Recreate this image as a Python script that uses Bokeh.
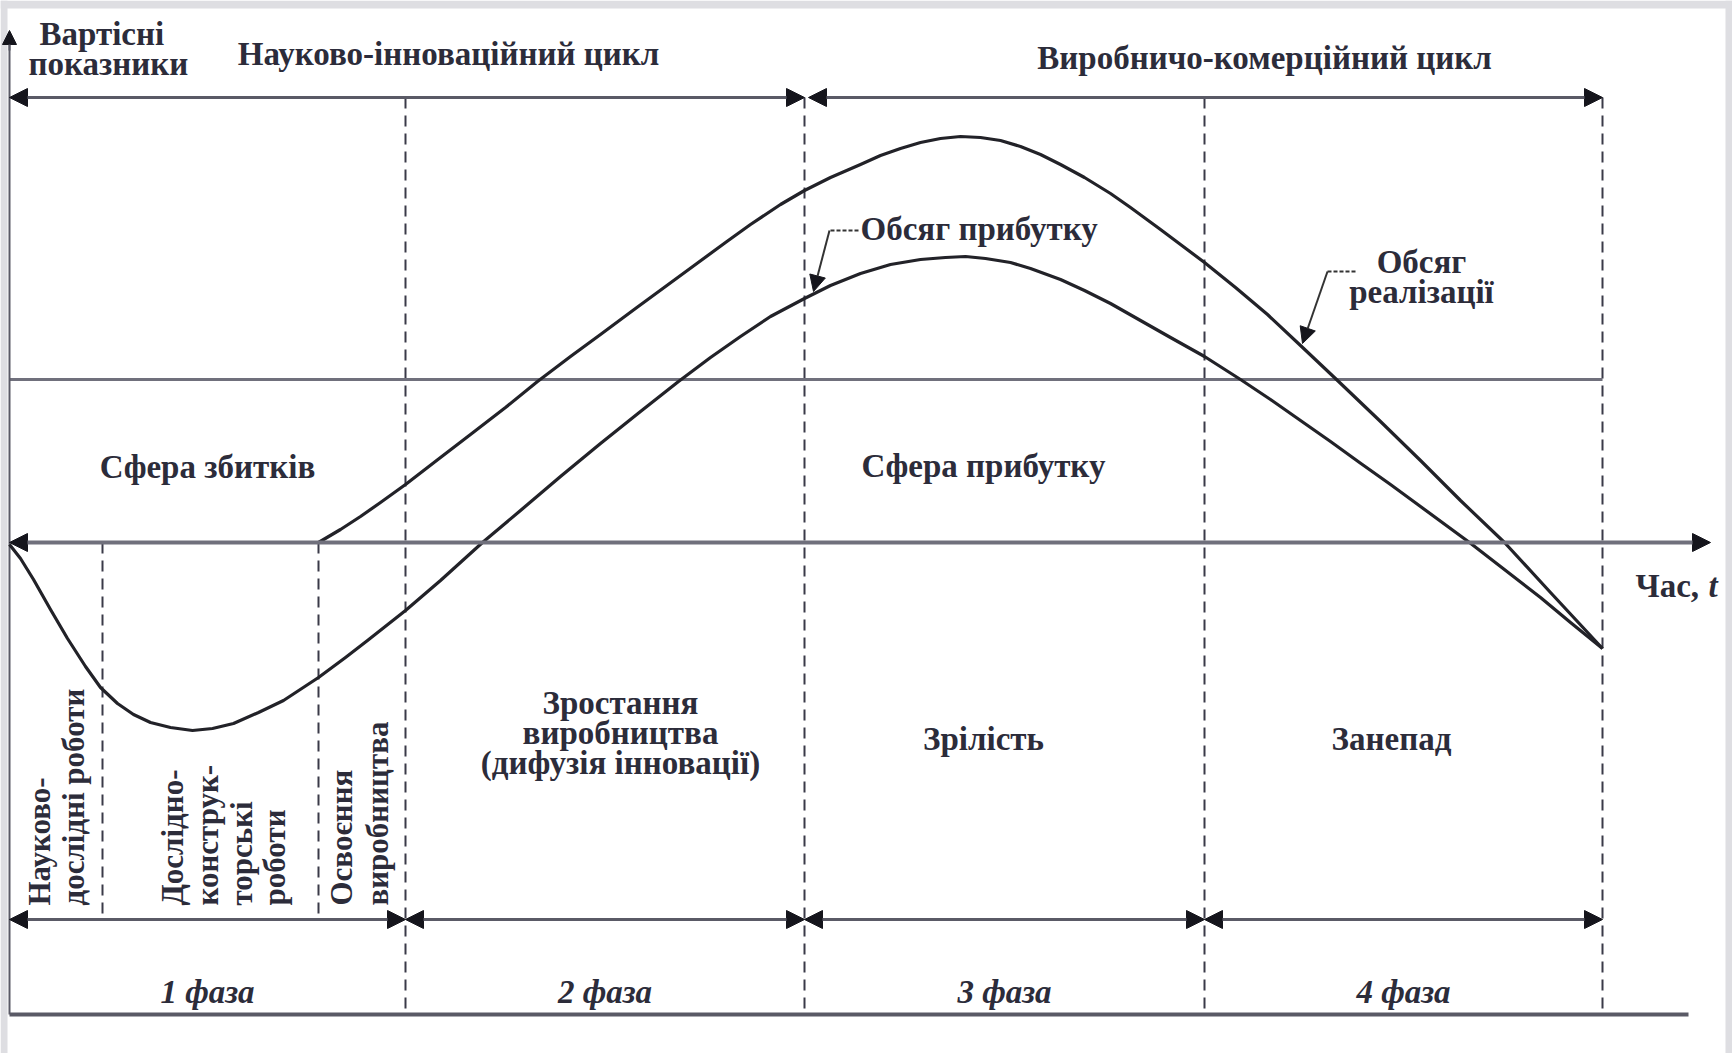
import math
from bokeh.plotting import figure
from bokeh.models import Arrow, NormalHead, Range1d
from bokeh.core.properties import value
from bokeh.embed import file_html
from bokeh.resources import INLINE

# ---------------- data (time position t, value above the time axis) ----------------
W, H = 1732, 1053
AXIS_PX = 542  # pixel row of time axis in the picture

# Обсяг реалізації (sales volume)
sales_t = [318, 340, 360, 380, 405, 440, 470, 505, 537, 570, 600, 635, 665, 695, 725,
           750, 780, 804, 830, 860, 880, 900, 920, 940, 960, 980, 1000, 1020, 1040,
           1060, 1084, 1110, 1130, 1160, 1180, 1204, 1235, 1267, 1300, 1336, 1380,
           1420, 1460, 1504, 1550, 1602]
sales_v = [0, 13, 26, 40, 58, 85, 108, 135, 161, 186, 208, 234, 256, 278, 300,
           318, 338, 352, 365, 378, 387, 394, 400, 404, 406, 405, 402, 396, 388,
           378, 365, 349, 335, 313, 298, 280, 255, 228, 197, 163, 121,
           82, 42, 0, -50, -106]

# Обсяг прибутку (profit volume)
profit_t = [9, 20, 33, 50, 67, 85, 100, 117, 133, 150, 170, 192, 212, 233, 258, 283,
            318, 345, 367, 405, 440, 482, 520, 560, 600, 640, 678, 710, 740, 770, 804,
            830, 860, 890, 920, 945, 965, 985, 1010, 1030, 1060, 1084, 1110, 1140,
            1170, 1204, 1240, 1270, 1300, 1330, 1359, 1390, 1420, 1469, 1500, 1540,
            1570, 1602]
profit_v = [-2, -16, -37, -67, -96, -124, -145, -161, -172, -180, -185, -188, -186, -181,
            -170, -158, -135, -115, -98, -68, -38, 0, 32, 66, 99, 131, 161, 185, 206,
            226, 244, 257, 269, 278, 283, 285, 286, 284, 280, 274, 263, 252, 239, 222,
            205, 186, 163, 143, 122, 101, 80, 58, 36, 0, -24, -55, -80, -106]

phase_bounds = [9, 405, 804, 1204, 1602]        # phase borders on the time axis
stage_bounds = [102, 318]                        # sub-stages inside phase 1
phase_labels = ["1 фаза", "2 фаза", "3 фаза", "4 фаза"]

level_profit_line = 163   # horizontal line separating loss / profit spheres
level_top_arrow = 445
level_phase_arrow = -377
level_base = -472
level_top_axis = 512

# ---------------- figure ----------------
p = figure(width=W, height=H, x_range=Range1d(0, W), y_range=Range1d(AXIS_PX - H, AXIS_PX),
           output_backend="svg", toolbar_location=None, min_border=0,
           x_axis_location=None, y_axis_location=None, background_fill_color="white",
           border_fill_color="white", outline_line_color=None)
p.grid.visible = False

FONT = value("Liberation Serif")
TXT = "#2c2c3a"
LINE = "#3a3a48"

# scan border strips
p.quad(left=[0, 0, W - 7], right=[7, W, W], bottom=[AXIS_PX - H, AXIS_PX - 8, AXIS_PX - H],
       top=[AXIS_PX, AXIS_PX, AXIS_PX], fill_color="#dedee2", line_color=None)

# dashed verticals
x0 = phase_bounds[0]
p.segment(x0=phase_bounds[1:], y0=[level_top_arrow] * 4, x1=phase_bounds[1:],
          y1=[level_base] * 4, line_color=LINE, line_width=2, line_dash="11 7")
p.segment(x0=stage_bounds, y0=[0, 0], x1=stage_bounds, y1=[level_phase_arrow] * 2,
          line_color=LINE, line_width=2, line_dash="11 7")

# horizontal profit-line and base line, vertical axis
p.segment(x0=[x0], y0=[level_profit_line], x1=[phase_bounds[-1]], y1=[level_profit_line],
          line_color="#70707c", line_width=3)
p.segment(x0=[x0], y0=[level_base], x1=[1688], y1=[level_base], line_color="#5a5a66", line_width=4)
p.segment(x0=[x0], y0=[level_base], x1=[x0], y1=[level_top_axis - 10], line_color="#5a5a66", line_width=2)

def head(sz=18):
    return NormalHead(size=sz, fill_color="#15151c", line_color="#15151c")

# y axis arrow tip
p.add_layout(Arrow(start=None, end=head(14), x_start=x0, y_start=level_top_axis - 20,
                   x_end=x0, y_end=level_top_axis, line_color="#5a5a66", line_width=2))
# time axis
p.add_layout(Arrow(start=head(), end=head(), x_start=x0, y_start=0, x_end=1710, y_end=0,
                   line_color="#70707c", line_width=4))
# top cycle arrows
for a, b in [(x0, phase_bounds[2]), (phase_bounds[2] + 4, phase_bounds[4])]:
    p.add_layout(Arrow(start=head(), end=head(), x_start=a, y_start=level_top_arrow,
                       x_end=b, y_end=level_top_arrow, line_color="#5a5a66", line_width=3))
# phase arrows
for a, b in zip(phase_bounds[:-1], phase_bounds[1:]):
    p.add_layout(Arrow(start=head(), end=head(), x_start=a, y_start=level_phase_arrow,
                       x_end=b, y_end=level_phase_arrow, line_color="#5a5a66", line_width=3))

# curves
p.line(sales_t, sales_v, line_color="#222228", line_width=3.2, line_join="round")
p.line(profit_t, profit_v, line_color="#222228", line_width=3.2, line_join="round")

# leaders
p.line([858, 829], [312, 312], line_color="#333", line_width=2, line_dash="4 2")
p.add_layout(Arrow(end=head(16), x_start=829, y_start=312, x_end=813, y_end=251,
                   line_color="#333", line_width=2))
p.line([1355, 1327], [271, 271], line_color="#333", line_width=2, line_dash="4 2")
p.add_layout(Arrow(end=head(16), x_start=1327, y_start=271, x_end=1302, y_end=199,
                   line_color="#333", line_width=2))

def txt(x, y, t, size=33, align="center", style="bold", angle=0.0):
    p.text(x=[x], y=[y], text=[t], text_font=FONT, text_font_size=f"{size}px",
           text_align=align, text_baseline="middle", text_color=TXT,
           text_font_style=style, angle=angle)

txt(39, 509, "Вартісні", align="left")
txt(28, 479, "показники", align="left")
txt(448, 489, "Науково-інноваційний цикл")
txt(1264, 485, "Виробничо-комерційний цикл")
txt(860, 314, "Обсяг прибутку", align="left")
txt(1421, 281, "Обсяг")
txt(1421, 251, "реалізації")
txt(207, 76, "Сфера збитків")
txt(983, 77, "Сфера прибутку")
txt(1635, -43, "Час,", align="left")
txt(1708, -43, "t", align="left", style="bold italic")
txt(620, -160, "Зростання")
txt(620, -190, "виробництва")
txt(620, -220, "(дифузія інновації)")
txt(983, -196, "Зрілість")
txt(1391, -196, "Занепад")
for a, b, lab in zip(phase_bounds[:-1], phase_bounds[1:], phase_labels):
    txt((a + b) / 2, -449, lab, style="bold italic")

rot = [(39, "Науково-"), (73, "дослідні роботи"),
       (172, "Дослідно-"), (207, "конструк-"), (241, "торські"), (274, "роботи"),
       (341, "Освоєння"), (377, "виробництва")]
for x, t in rot:
    txt(x, -363, t, size=31, align="left", angle=math.pi / 2)

open("out.html", "w").write(file_html(p, INLINE))
